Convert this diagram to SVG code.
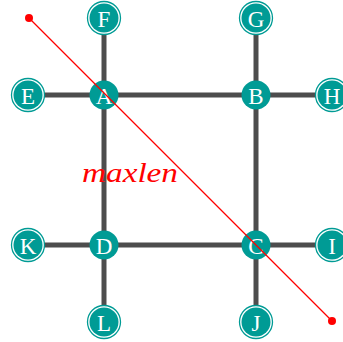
<svg xmlns="http://www.w3.org/2000/svg" width="343" height="342" viewBox="0 0 343 342">
<style>
.e{stroke:#4d4d4d;stroke-width:5;fill:none}
.f{fill:#009b95}
.ring{fill:#fff;stroke:#009b95;stroke-width:1.3}
.t{font-family:"Liberation Serif","DejaVu Serif",serif;font-size:23px;fill:#fff;text-anchor:middle;dominant-baseline:central}
.r{stroke:#ff0000;stroke-width:1.3;fill:none}
</style>
<rect width="343" height="342" fill="#fff"/>
<g id="connectors">
<line class="e" x1="104" y1="18" x2="104" y2="95"/>
<line class="e" x1="28" y1="95" x2="104" y2="95"/>
<line class="e" x1="104" y1="95" x2="256" y2="95"/>
<line class="e" x1="104" y1="95" x2="104" y2="245"/>
<line class="e" x1="256" y1="18" x2="256" y2="95"/>
<line class="e" x1="256" y1="95" x2="332" y2="95"/>
<line class="e" x1="256" y1="95" x2="256" y2="245"/>
<line class="e" x1="256" y1="245" x2="332" y2="245"/>
<line class="e" x1="256" y1="245" x2="256" y2="322"/>
<line class="e" x1="104" y1="245" x2="256" y2="245"/>
<line class="e" x1="28" y1="245" x2="104" y2="245"/>
<line class="e" x1="104" y1="245" x2="104" y2="322"/>
</g>
<g id="A"><circle class="f" cx="104" cy="95" r="14.5"/><text class="t" x="104" y="96">A</text></g>
<g id="B"><circle class="f" cx="256" cy="95" r="14.5"/><text class="t" x="256" y="96">B</text></g>
<g id="C"><circle class="f" cx="256" cy="245" r="14.5"/><text class="t" x="256" y="246">C</text></g>
<g id="D"><circle class="f" cx="104" cy="245" r="14.5"/><text class="t" x="104" y="246">D</text></g>
<g id="E"><circle class="ring" cx="28" cy="95" r="16.5"/><circle class="f" cx="28" cy="95" r="14.5"/><text class="t" x="28" y="96">E</text></g>
<g id="F"><circle class="ring" cx="104" cy="18" r="16.5"/><circle class="f" cx="104" cy="18" r="14.5"/><text class="t" x="104" y="19">F</text></g>
<g id="G"><circle class="ring" cx="256" cy="18" r="16.5"/><circle class="f" cx="256" cy="18" r="14.5"/><text class="t" x="256" y="19">G</text></g>
<g id="H"><circle class="ring" cx="332" cy="95" r="16.5"/><circle class="f" cx="332" cy="95" r="14.5"/><text class="t" x="332" y="96">H</text></g>
<g id="I"><circle class="ring" cx="332" cy="245" r="16.5"/><circle class="f" cx="332" cy="245" r="14.5"/><text class="t" x="332" y="246">I</text></g>
<g id="J"><circle class="ring" cx="256" cy="322" r="16.5"/><circle class="f" cx="256" cy="322" r="14.5"/><text class="t" x="256" y="323">J</text></g>
<g id="K"><circle class="ring" cx="28" cy="245" r="16.5"/><circle class="f" cx="28" cy="245" r="14.5"/><text class="t" x="28" y="246">K</text></g>
<g id="L"><circle class="ring" cx="104" cy="322" r="16.5"/><circle class="f" cx="104" cy="322" r="14.5"/><text class="t" x="104" y="323">L</text></g>
<g id="maxlen">
<path class="r" d="M29 18 L332 321"/>
<circle cx="29" cy="18" r="4" fill="#ff0000"/>
<circle cx="332" cy="321" r="4" fill="#ff0000"/>
<text x="82" y="182" font-family="Liberation Serif, DejaVu Serif, serif" font-style="italic" font-size="28" fill="#ff0000" textLength="96" lengthAdjust="spacingAndGlyphs">maxlen</text>
</g>
</svg>
